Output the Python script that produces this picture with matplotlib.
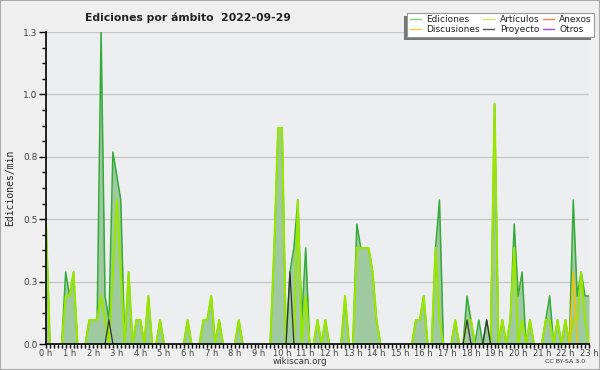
import numpy as np
import matplotlib

matplotlib.use("Agg")
import matplotlib.pyplot as plt
from matplotlib.lines import Line2D
from matplotlib.patches import Rectangle

# edits per minute, one value per 10-minute bin, 0:00 .. 23:00 (12 bins = 2 h per row)
EDICIONES = [
    0.5, 0, 0, 0, 0, 0.3, 0.2, 0.3, 0, 0, 0, 0.1,
    0.1, 0.1, 1.3, 0.2, 0.1, 0.8, 0.7, 0.6, 0, 0.3, 0, 0.1,
    0.1, 0, 0.2, 0, 0, 0.1, 0, 0, 0, 0, 0, 0,
    0.1, 0, 0, 0, 0.1, 0.1, 0.2, 0, 0.1, 0, 0, 0,
    0, 0.1, 0, 0, 0, 0, 0, 0, 0, 0, 0.4, 0.9,
    0.9, 0, 0.3, 0.4, 0.6, 0.1, 0.4, 0, 0, 0.1, 0, 0.1,
    0, 0, 0, 0, 0.2, 0, 0, 0.5, 0.4, 0.4, 0.4, 0.3,
    0.1, 0, 0, 0, 0, 0, 0, 0, 0, 0, 0.1, 0.1,
    0.2, 0, 0, 0.4, 0.6, 0, 0, 0, 0.1, 0, 0, 0.2,
    0.1, 0, 0.1, 0, 0.1, 0, 1.0, 0, 0.1, 0, 0.1, 0.5,
    0.2, 0.3, 0, 0.1, 0, 0, 0, 0.1, 0.2, 0, 0.1, 0,
    0.1, 0, 0.6, 0.2, 0.3, 0.2, 0.2,
]
ARTICULOS = [
    0.5, 0, 0, 0, 0, 0.2, 0.2, 0.3, 0, 0, 0, 0.1,
    0.1, 0.1, 0.2, 0.1, 0, 0.3, 0.6, 0.3, 0, 0.3, 0, 0.1,
    0.1, 0, 0.2, 0, 0, 0.1, 0, 0, 0, 0, 0, 0,
    0.1, 0, 0, 0, 0.1, 0.1, 0.2, 0, 0.1, 0, 0, 0,
    0, 0.1, 0, 0, 0, 0, 0, 0, 0, 0, 0.4, 0.9,
    0.9, 0, 0, 0, 0.6, 0, 0.2, 0, 0, 0.1, 0, 0.1,
    0, 0, 0, 0, 0.2, 0, 0, 0.4, 0.4, 0.4, 0.4, 0.3,
    0.1, 0, 0, 0, 0, 0, 0, 0, 0, 0, 0.1, 0.1,
    0.2, 0, 0, 0.4, 0.1, 0, 0, 0, 0.1, 0, 0, 0.1,
    0.1, 0, 0, 0, 0, 0, 1.0, 0, 0.1, 0, 0.1, 0.4,
    0, 0.1, 0, 0.1, 0, 0, 0, 0.1, 0.1, 0, 0.1, 0,
    0.1, 0, 0.1, 0.1, 0.3, 0.1, 0,
]
DISCUSIONES = [0] * 134 + [0.3, 0, 0, 0, 0]
PROYECTO = [0] * 139
PROYECTO_BINS = [16, 62, 107, 112]
PROYECTO_VALS = [0.1, 0.3, 0.1, 0.1]

HOURS = list(range(24))
Y_MAX = 1.3

LEGEND = [
    ("Ediciones", "#86cf86"), ("Discusiones", "#f7cf3c"),
    ("Artículos", "#c8ee50"), ("Proyecto", "#555555"),
    ("Anexos", "#f08450"), ("Otros", "#9a50e6"),
]

for b, v in zip(PROYECTO_BINS, PROYECTO_VALS):
    PROYECTO[b] = v

x = np.arange(len(EDICIONES)) / 6.0


def trace(vals):
    # cut the line wherever it would lie along the baseline
    xs, ys = [], []
    for i, v in enumerate(vals):
        xs.append(x[i])
        ys.append(v)
        if i + 1 < len(vals) and v == 0 and vals[i + 1] == 0:
            xs.append(np.nan)
            ys.append(np.nan)
    return xs, ys


fig = plt.figure(figsize=(6, 3.7), dpi=100, facecolor="#efefef")
fig.patches.append(Rectangle((0, 0), 1, 1, transform=fig.transFigure,
                             fill=False, ec="#aaaaaa", lw=1.5))
ax = fig.add_axes([46 / 600, 26 / 370, 543 / 600, 312 / 370])
ax.set_facecolor("#eceef0")

ax.fill_between(x, EDICIONES, color="#9fca9f", lw=0, zorder=2)
ax.plot(*trace(EDICIONES), color="#33aa3a", lw=1.1, zorder=3)
ax.plot(*trace(ARTICULOS), color="#99e600", lw=1.5, zorder=4)
ax.plot(*trace(DISCUSIONES), color="#f2c200", lw=1.1, zorder=5)
ax.plot(*trace(PROYECTO), color="#333333", lw=0.9, zorder=6)

ax.set_xlim(0, x[-1])
ax.set_ylim(0, Y_MAX)
yt = np.linspace(0, Y_MAX, 6)
ax.set_yticks(yt)
ax.set_yticklabels([f"{v:.1f}" for v in [0.0, 0.3, 0.5, 0.8, 1.0, 1.3]])
ax.set_yticks(np.linspace(0, Y_MAX, 21), minor=True)
ax.set_xticks(HOURS)
ax.set_xticklabels([f"{h} h" for h in HOURS])
ax.set_xticks(np.arange(0, x[-1] + 0.01, 1 / 6), minor=True)
ax.grid(axis="y", color="#c8c8c8", lw=1, zorder=1)
ax.set_axisbelow(True)

for s in ("top", "right"):
    ax.spines[s].set_visible(False)
for s in ("left", "bottom"):
    ax.spines[s].set_color("black")
    ax.spines[s].set_linewidth(1.2)
    ax.spines[s].set_zorder(8)
ax.tick_params(axis="y", which="major", length=5, width=1, labelsize=6.5,
               labelcolor="#444444", pad=1)
ax.tick_params(axis="y", which="minor", length=3, width=1)
ax.tick_params(axis="x", which="both", length=3, width=1, labelsize=6,
               labelcolor="#444444", pad=0.5)

fig.text(0.314, 0.951, "Ediciones por ámbito  2022-09-29", ha="center",
         va="center", fontsize=7.8, fontweight="bold", color="#222222")
fig.text(0.017, 0.492, "Ediciones/min", rotation=90, ha="center", va="center",
         fontsize=7, family="DejaVu Sans Mono", color="#222222")
fig.text(0.5, 0.022, "wikiscan.org", ha="center", va="center", fontsize=6.3,
         color="#333333")
fig.text(0.975, 0.022, "CC BY-SA 3.0", ha="right", va="center", fontsize=4.5,
         color="#333333")

handles = [Line2D([], [], color=c, lw=1) for _, c in LEGEND]
leg = fig.legend(handles, [n for n, _ in LEGEND], ncol=3, loc="upper right",
                 bbox_to_anchor=(599 / 600, 1 - 8 / 370), fontsize=6.5,
                 handlelength=1.2, handletextpad=0.6, columnspacing=0.4,
                 labelspacing=0.1, borderpad=0.3, frameon=False)
for t in leg.get_texts():
    t.set_color("#222222")

# white box with a drop shadow down-left, placed from the legend's extent
fig.canvas.draw()
bb = leg.get_window_extent().transformed(fig.transFigure.inverted())
fig.patches.append(Rectangle((bb.x0 - 3 / 600, bb.y0 - 3 / 370), bb.width,
                             bb.height, transform=fig.transFigure,
                             fc="#777777", ec="none", zorder=1))
fig.patches.append(Rectangle((bb.x0, bb.y0), bb.width, bb.height,
                             transform=fig.transFigure, fc="white",
                             ec="#999999", lw=0.8, zorder=2))

fig.savefig("out.png", facecolor=fig.get_facecolor())
